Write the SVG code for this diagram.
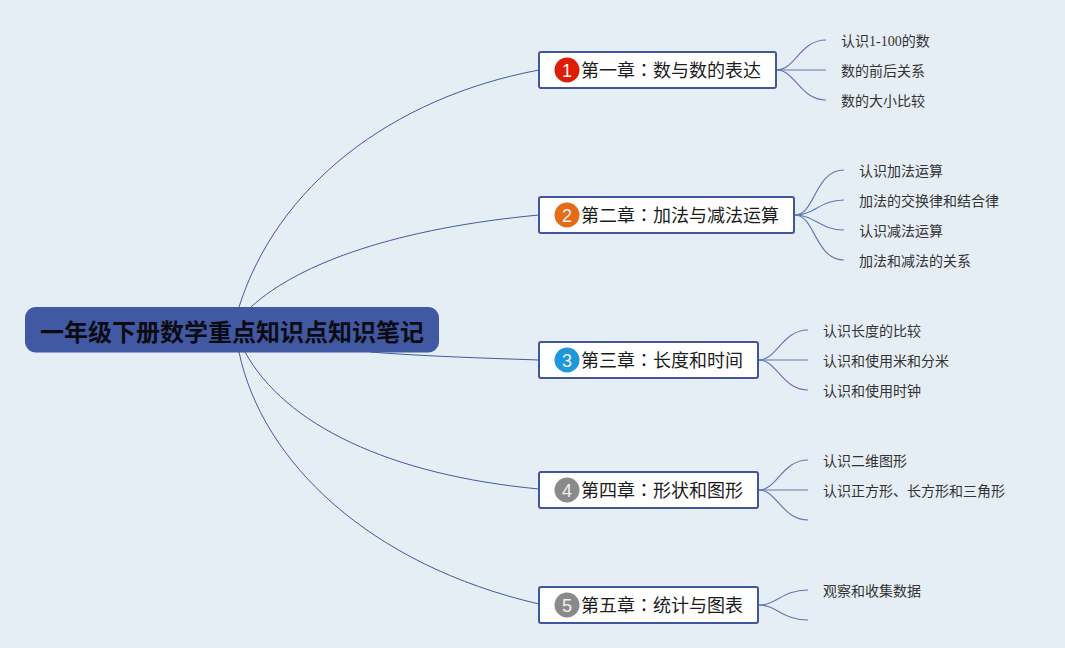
<svg xmlns="http://www.w3.org/2000/svg" width="1065" height="648" viewBox="0 0 1065 648">
<style>
.cjk{font-family:"Noto Sans CJK SC","Liberation Sans",sans-serif}
.c{font-family:"Noto Sans CJK TC",sans-serif}
.main{fill:none;stroke:#4159a0;stroke-width:1}
.sub{fill:none;stroke:#6177ae;stroke-width:1.1}
.box{fill:#fff;stroke:#41579c;stroke-width:2}
.t{font-size:18px;fill:#1c1c1c}
.l{font-size:14px;fill:#333}
.n{font-family:"Liberation Sans",sans-serif;font-size:18px;fill:#f1f1f1;text-anchor:middle}
</style>
<rect width="1065" height="648" fill="#e5eef4"/>
<g id="connectors">
<path class="main" d="M239 307C277 187 390 98 539 70"/>
<path class="main" d="M251 307C300 262 400 228 539 215"/>
<path class="main" d="M370 352C420 356 480 358 539 360"/>
<path class="main" d="M245 352C285 425 390 475 539 489"/>
<path class="main" d="M239 352C262 462 370 565 539 604"/>
<path class="sub" d="M777 70C795 70 800 40 826 40"/>
<path class="sub" d="M777 70H826"/>
<path class="sub" d="M777 70C795 70 800 100 826 100"/>
<path class="sub" d="M795 215C815 215 815 170 844 170"/>
<path class="sub" d="M795 215C815 215 820 200 844 200"/>
<path class="sub" d="M795 215C815 215 820 230 844 230"/>
<path class="sub" d="M795 215C815 215 815 260 844 260"/>
<path class="sub" d="M759 360C777 360 782 330 808 330"/>
<path class="sub" d="M759 360H808"/>
<path class="sub" d="M759 360C777 360 782 390 808 390"/>
<path class="sub" d="M759 490C777 490 782 460 808 460"/>
<path class="sub" d="M759 490H808"/>
<path class="sub" d="M759 490C777 490 782 520 808 520"/>
<path class="sub" d="M759 605C777 605 782 590 808 590"/>
<path class="sub" d="M759 605C777 605 782 620 808 620"/>
</g>
<g id="root">
<rect x="25" y="307" width="414" height="45.500" rx="11" fill="#4159a2"/>
<text class="cjk" x="40" y="341" font-size="24px" font-weight="700" fill="#0b0b14">一年级下册数学重点知识点知识笔记</text>
</g>
<g id="n1">
<rect class="box" x="539" y="52" width="237" height="36" rx="2"/>
<circle cx="567" cy="70" r="12.500" fill="#de1d06"/>
<text class="n" x="567" y="76.500">1</text>
<text class="cjk t" x="581" y="77">第一章<tspan class="c">：</tspan>数与数的表达</text>
</g>
<g id="n2">
<rect class="box" x="539" y="197" width="255" height="36" rx="2"/>
<circle cx="567" cy="215" r="12.500" fill="#e56b15"/>
<text class="n" x="567" y="221.500">2</text>
<text class="cjk t" x="581" y="222">第二章<tspan class="c">：</tspan>加法与减法运算</text>
</g>
<g id="n3">
<rect class="box" x="539" y="342" width="219" height="36" rx="2"/>
<circle cx="567" cy="360" r="12.500" fill="#1f97dc"/>
<text class="n" x="567" y="366.500">3</text>
<text class="cjk t" x="581" y="367">第三章<tspan class="c">：</tspan>长度和时间</text>
</g>
<g id="n4">
<rect class="box" x="539" y="472" width="219" height="36" rx="2"/>
<circle cx="567" cy="490" r="12.500" fill="#8a8a8a"/>
<text class="n" x="567" y="496.500">4</text>
<text class="cjk t" x="581" y="497">第四章<tspan class="c">：</tspan>形状和图形</text>
</g>
<g id="n5">
<rect class="box" x="539" y="587" width="219" height="36" rx="2"/>
<circle cx="567" cy="605" r="12.500" fill="#8a8a8a"/>
<text class="n" x="567" y="611.500">5</text>
<text class="cjk t" x="581" y="612">第五章<tspan class="c">：</tspan>统计与图表</text>
</g>
<g id="leaves" class="cjk">
<g id="l1-1"><text class="l" x="841" y="46">认识<tspan font-family="Liberation Serif">1-100</tspan>的数</text></g>
<g id="l1-2"><text class="l" x="841" y="76">数的前后关系</text></g>
<g id="l1-3"><text class="l" x="841" y="106">数的大小比较</text></g>
<g id="l2-1"><text class="l" x="859" y="176">认识加法运算</text></g>
<g id="l2-2"><text class="l" x="859" y="206">加法的交换律和结合律</text></g>
<g id="l2-3"><text class="l" x="859" y="236">认识减法运算</text></g>
<g id="l2-4"><text class="l" x="859" y="266">加法和减法的关系</text></g>
<g id="l3-1"><text class="l" x="823" y="336">认识长度的比较</text></g>
<g id="l3-2"><text class="l" x="823" y="366">认识和使用米和分米</text></g>
<g id="l3-3"><text class="l" x="823" y="396">认识和使用时钟</text></g>
<g id="l4-1"><text class="l" x="823" y="466">认识二维图形</text></g>
<g id="l4-2"><text class="l" x="823" y="496">认识正方形、长方形和三角形</text></g>
<g id="l5-1"><text class="l" x="823" y="596">观察和收集数据</text></g>
</g>
</svg>
